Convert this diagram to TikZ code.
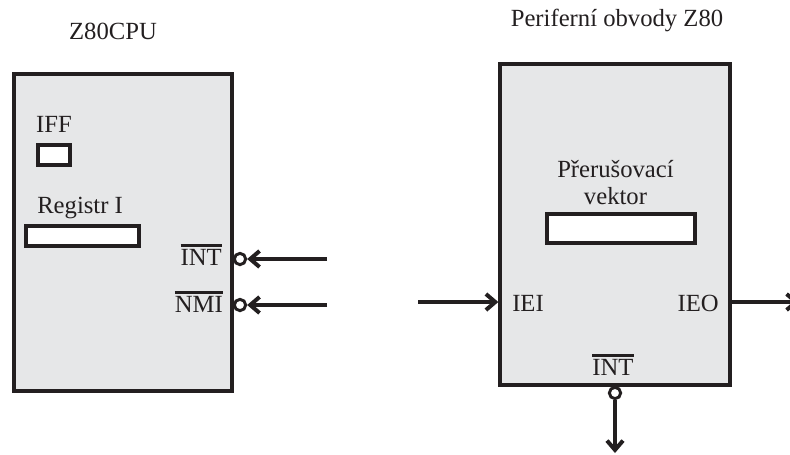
\documentclass[tikz,border=0pt]{standalone}
\usepackage{fontspec}
\setmainfont{Liberation Serif}
\usetikzlibrary{positioning, arrows.meta}
\definecolor{boxgray}{RGB}{230,231,232}
\definecolor{ink}{RGB}{35,31,32}
\newcommand{\ovl}[1]{\setbox0\hbox{#1}\rlap{\rule[\dimexpr\ht0+1.5pt\relax]{\wd0}{1.8pt}}\box0}

\begin{document}
\begin{tikzpicture}[
    x=0.75pt, y=-0.75pt,
    >={Straight Barb[length=7pt, width=12pt]},
    every node/.style = {font=\fontsize{18.5pt}{20.25pt}\selectfont, inner sep=0pt, text=ink},
    unit/.style       = {rectangle, draw=ink, line width=3pt, fill=boxgray},
    reg/.style        = {rectangle, draw=ink, line width=3pt, fill=white},
    pinc/.style       = {circle, draw=ink, line width=2.2pt, fill=white, minimum size=8.5pt},
    line/.style       = {->, draw=ink, line width=3pt}
]
\useasboundingbox (0,0) rectangle (790,454);

% CPU block
\node[unit, minimum width=163pt, minimum height=238pt] (cpu) at (123,232.5) {};
\node[anchor=base] (cpuname) at (113,39) {Z80CPU};
\node[reg, minimum width=24pt, minimum height=15pt] (iff) at (54,155) {};
\node[anchor=base] (ifflbl) at (54,132) {IFF};
\node[reg, minimum width=85pt, minimum height=15pt] (regi) at (82.5,236) {};
\node[anchor=base west] (regilbl) at (37,213) {Registr I};

% CPU interrupt inputs
\node[pinc] (intc) at (240,259) {};
\node[pinc] (nmic) at (240,305) {};
\node[anchor=base east] (intlbl) at (222,265) {\ovl{INT}};
\node[anchor=base east] (nmilbl) at (223,312) {\ovl{NMI}};
\coordinate (intin) at (327,259);
\coordinate (nmiin) at (327,305);
\draw[line] (intin) -- (intc);
\draw[line] (nmiin) -- (nmic);

% Peripheral block
\node[unit, minimum width=172pt, minimum height=241pt] (per) at (615,224.5) {};
\node[anchor=base] (pername) at (617,26) {Periferní obvody Z80};
\node[reg, minimum width=111pt, minimum height=22pt] (vec) at (621,228.5) {};
\node[align=center, anchor=south] (veclbl) at (615.5,205) {Přerušovací\\vektor};

% Daisy chain IEI -> IEO
\coordinate (ieiin) at (418,302);
\draw[line] (ieiin) -- (ieiin -| per.west);
\node[anchor=base west] (ieilbl) at (512,311) {IEI};
\node[anchor=base east] (ieolbl) at (719,311) {IEO};
\coordinate (ieoout) at (799,302);
\draw[line] (ieoout -| per.east) -- (ieoout);

% Peripheral interrupt output
\node[pinc] (pintc) at (615,393) {};
\node[anchor=base] (pintlbl) at (613,375) {\ovl{INT}};
\coordinate (pintout) at (615,453);
\draw[line] (pintc) -- (pintout);

\end{tikzpicture}
\end{document}
